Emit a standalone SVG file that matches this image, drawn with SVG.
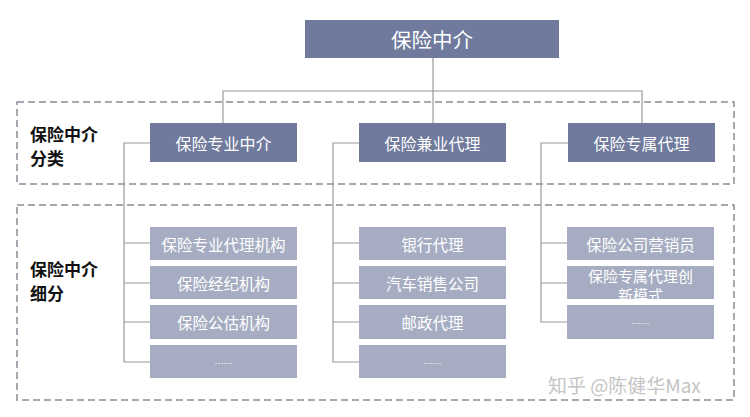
<svg xmlns="http://www.w3.org/2000/svg" width="750" height="417" viewBox="0 0 750 417">
<style>
.dash{fill:none;stroke:#8a8d96;stroke-width:1.5;stroke-dasharray:7 4}
.l2{fill:#6f7a9d}
.l3{fill:#a6adc2}
.t{font-family:"Noto Sans CJK SC","Noto Sans",sans-serif;fill:#ffffff;text-anchor:middle;dominant-baseline:central}
.t2{font-size:16px}
.t3{font-size:15.5px}
.lab{font-family:"Noto Sans CJK SC","Noto Sans",sans-serif;font-size:17px;font-weight:700;fill:#111111;dominant-baseline:central}
.c{fill:none;stroke:#9a9a9a;stroke-width:1.2}
</style>
<rect width="750" height="417" fill="#ffffff"/>
<g id="groups">
<rect class="dash" x="17" y="102" width="717" height="82"/>
<rect class="dash" x="17" y="205" width="717" height="195"/>
<text class="lab" x="30" y="133">保险中介</text>
<text class="lab" x="30" y="157">分类</text>
<text class="lab" x="30" y="268">保险中介</text>
<text class="lab" x="30" y="292">细分</text>
</g>
<g id="connectors">
<path class="c" d="M433,58 V123 M223,123 V91 H642 V123"/>
<path class="c" d="M150,143 H124 V362 H150 M124,243 H150 M124,283 H150 M124,322 H150"/>
<path class="c" d="M359,143 H333 V362 H359 M333,243 H359 M333,283 H359 M333,322 H359"/>
<path class="c" d="M568,143 H541 V322 H567 M541,243 H567 M541,283 H567"/>
</g>
<g id="root"><rect class="l2" x="305" y="20" width="254" height="38"/><text class="t" x="432" y="39" font-size="20.5">保险中介</text></g>
<g id="n-zhuanye"><rect class="l2" x="150" y="123" width="147" height="39"/><text class="t t2" x="223.5" y="142.5">保险专业中介</text></g>
<g id="n-jianye"><rect class="l2" x="359" y="123" width="147" height="39"/><text class="t t2" x="432.5" y="142.5">保险兼业代理</text></g>
<g id="n-zhuanshu"><rect class="l2" x="568" y="123" width="147" height="39"/><text class="t t2" x="641.5" y="142.5">保险专属代理</text></g>
<g id="c1-1"><rect class="l3" x="150" y="227" width="147" height="33"/><text class="t t3" x="223.5" y="243.5">保险专业代理机构</text></g>
<g id="c1-2"><rect class="l3" x="150" y="266" width="147" height="33"/><text class="t t3" x="223.5" y="282.5">保险经纪机构</text></g>
<g id="c1-3"><rect class="l3" x="150" y="305" width="147" height="34"/><text class="t t3" x="223.5" y="322">保险公估机构</text></g>
<g id="c1-4"><rect class="l3" x="150" y="345" width="147" height="33"/><text class="t" x="223.5" y="363" font-size="9">……</text></g>
<g id="c2-1"><rect class="l3" x="359" y="227" width="147" height="33"/><text class="t t3" x="432.5" y="243.5">银行代理</text></g>
<g id="c2-2"><rect class="l3" x="359" y="266" width="147" height="33"/><text class="t t3" x="432.5" y="282.5">汽车销售公司</text></g>
<g id="c2-3"><rect class="l3" x="359" y="305" width="147" height="34"/><text class="t t3" x="432.5" y="322">邮政代理</text></g>
<g id="c2-4"><rect class="l3" x="359" y="345" width="147" height="33"/><text class="t" x="432.5" y="363" font-size="9">……</text></g>
<g id="c3-1"><rect class="l3" x="567" y="227" width="147" height="33"/><text class="t t3" x="640.5" y="243.5">保险公司营销员</text></g>
<g id="c3-2"><rect class="l3" x="567" y="266" width="147" height="33"/><text class="t" x="640.5" y="275" font-size="15">保险专属代理创</text><text class="t" x="640.5" y="294" font-size="15">新模式</text></g>
<g id="c3-3"><rect class="l3" x="567" y="305" width="147" height="34"/><text class="t" x="640.5" y="323" font-size="9">……</text></g>
<text x="548" y="384" font-family="'Noto Sans CJK SC','Noto Sans',sans-serif" font-size="19" fill="#c4c4c4" dominant-baseline="central">知乎 @陈健华Max</text>
</svg>
